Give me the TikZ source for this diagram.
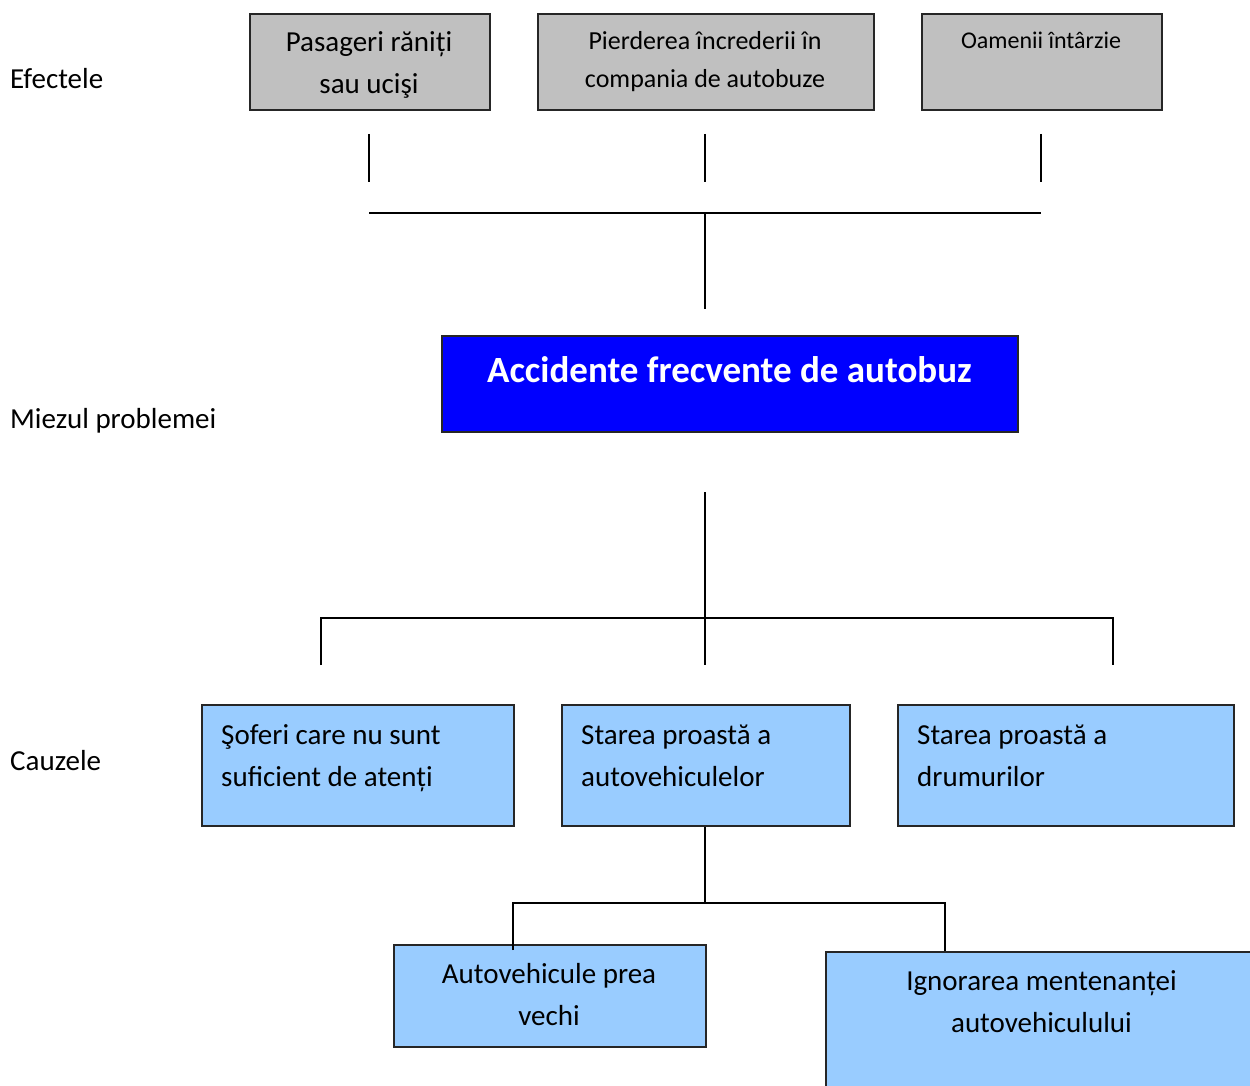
\documentclass[tikz,border=0pt]{standalone}
\usepackage{fontspec}
\setmainfont{Carlito}
\definecolor{effgray}{HTML}{C0C0C0}
\definecolor{coreblue}{HTML}{0000FF}
\definecolor{causeblue}{HTML}{99CCFF}
\begin{document}
\begin{tikzpicture}[x=1pt,y=-1pt,
  box/.style={draw=black!85, line width=2pt, inner sep=0pt, anchor=north west},
  conn/.style={draw=black, line width=1.6pt},
  txt/.style={inner sep=0pt, anchor=north, align=center},
  big/.style={font=\fontsize{29}{42}\selectfont},
  lab/.style={inner sep=0pt, anchor=base west, font=\fontsize{29}{42}\selectfont}]
\useasboundingbox (0,0) rectangle (1250,1086);
\begin{scope}
\clip (0,0) rectangle (1250,1086);
% effects
\node[box, fill=effgray, minimum width=240pt, minimum height=96pt] (e1) at (249,13) {};
\node[box, fill=effgray, minimum width=336pt, minimum height=96pt] (e2) at (537,13) {};
\node[box, fill=effgray, minimum width=240pt, minimum height=96pt] (e3) at (921,13) {};
\node[txt, big] (t1) at (369,21.6) {\strut Pasageri răniți\\sau ucişi};
\node[txt, font=\fontsize{26}{38}\selectfont] (t2) at (705,22.4) {\strut Pierderea încrederii în\\compania de autobuze};
\node[inner sep=0pt, anchor=base, font=\fontsize{24}{34}\selectfont] (t3) at (1041,48.5) {Oamenii întârzie};
% core
\node[box, fill=coreblue, minimum width=576pt, minimum height=96pt] (core) at (441,335) {};
\node[inner sep=0pt, anchor=base, text=white, font=\fontsize{37}{44}\selectfont\bfseries] (tc) at (729.5,382) {Accidente frecvente de autobuz};
% causes
\node[box, fill=causeblue, minimum width=312pt, minimum height=121pt] (c1) at (201,704) {};
\node[box, fill=causeblue, minimum width=288pt, minimum height=121pt] (c2) at (561,704) {};
\node[box, fill=causeblue, minimum width=336pt, minimum height=121pt] (c3) at (897,704) {};
\node[txt, big, anchor=north west, align=left] (tc1) at (221,714.6) {\strut Şoferi care nu sunt\\suficient de atenți};
\node[txt, big, anchor=north west, align=left] (tc2) at (581,714.6) {\strut Starea proastă a\\autovehiculelor};
\node[txt, big, anchor=north west, align=left] (tc3) at (917,714.6) {\strut Starea proastă a\\drumurilor};
% sub-causes
\node[box, fill=causeblue, minimum width=312pt, minimum height=102pt] (d1) at (393,944) {};
\node[box, fill=causeblue, minimum width=440pt, minimum height=160pt] (d2) at (825,951) {};
\node[txt, big] (td1) at (549,953.6) {\strut Autovehicule prea\\vechi};
\node[txt, big] (td2) at (1041.5,960.6) {\strut Ignorarea mentenanței\\autovehiculului};
\end{scope}
% side labels
\node[lab] (l1) at (10,89) {Efectele};
\node[lab] (l2) at (10,428) {Miezul problemei};
\node[lab] (l3) at (10,770) {Cauzele};
% connector coordinates
\coordinate (k1a) at (369,134); \coordinate (k1b) at (369,182);
\coordinate (k2a) at (705,134); \coordinate (k2b) at (705,182);
\coordinate (k3a) at (1041,134); \coordinate (k3b) at (1041,182);
\coordinate (hL) at (369,213); \coordinate (hR) at (1041,213);
\coordinate (hM) at (705,213); \coordinate (hD) at (705,309);
\coordinate (vA) at (705,492); \coordinate (vB) at (705,618);
\coordinate (bL) at (321,618); \coordinate (bR) at (1113,618);
\coordinate (bLd) at (321,665); \coordinate (bMd) at (705,665); \coordinate (bRd) at (1113,665);
\coordinate (sM) at (705,903); \coordinate (sL) at (513,903); \coordinate (sR) at (945,903);
\coordinate (sLd) at (513,950);
% connectors
\draw[conn] (k1a) -- (k1b);
\draw[conn] (k2a) -- (k2b);
\draw[conn] (k3a) -- (k3b);
\draw[conn] (hL) -- (hR);
\draw[conn] (hM) -- (hD);
\draw[conn] (vA) -- (bMd);
\draw[conn] (bLd) -- (bL) -- (bR) -- (bRd);
\draw[conn] (sM |- c2.south) -- (sM);
\draw[conn] (sLd) -- (sL) -- (sR) -- (sR |- d2.north);
\end{tikzpicture}
\end{document}
